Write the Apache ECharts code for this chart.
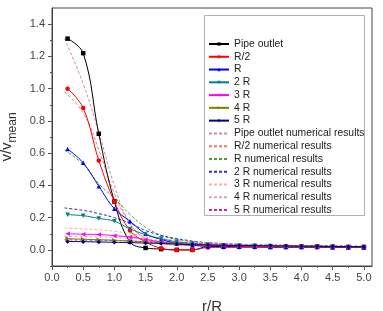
<!DOCTYPE html>
<html>
<head>
<meta charset="utf-8">
<script src="https://cdn.jsdelivr.net/npm/echarts@6/dist/echarts.min.js"></script>
<style>
  html, body { margin: 0; padding: 0; background: #fff; }
  #chart { width: 383px; height: 311px; }
</style>
</head>
<body>
<div id="chart"></div>
<script>
// r/R positions
const xs = [0.25, 0.5, 0.75, 1.0, 1.25, 1.5, 1.75, 2.0, 2.25, 2.5, 2.75, 3.0, 3.25, 3.5, 3.75, 4.0, 4.25, 4.5, 4.75, 5.0]
const xsNum = [0.2, 0.5, 0.75, 1.0, 1.25, 1.5, 1.75, 2.0, 2.25, 2.5, 2.75, 3.0, 3.25, 3.5, 3.75, 4.0, 4.25, 4.5, 4.75, 5.0]

// measured
const pipeOutlet = [1.31, 1.22, 0.72, 0.30, 0.05, 0.012, 0.005, 0.0, 0.0, 0.02, 0.02, 0.02, 0.02, 0.02, 0.02, 0.02, 0.02, 0.018, 0.016, 0.015]
const halfR = [1.0, 0.88, 0.555, 0.30, 0.12, 0.05, 0.01, 0.0, 0.0, 0.015, 0.016, 0.016, 0.016, 0.016, 0.016, 0.016, 0.016, 0.015, 0.015, 0.015]
const oneR = [0.625, 0.54, 0.395, 0.255, 0.178, 0.10, 0.065, 0.04, 0.028, 0.022, 0.02, 0.02, 0.02, 0.018, 0.018, 0.018, 0.018, 0.017, 0.017, 0.017]
const twoR = [0.218, 0.212, 0.195, 0.178, 0.13, 0.095, 0.07, 0.05, 0.04, 0.032, 0.028, 0.026, 0.025, 0.024, 0.023, 0.022, 0.022, 0.021, 0.02, 0.02]
const threeR = [0.10, 0.097, 0.095, 0.088, 0.08, 0.065, 0.05, 0.04, 0.033, 0.03, 0.027, 0.025, 0.024, 0.023, 0.022, 0.021, 0.02, 0.02, 0.02, 0.02]
const fourR = [0.07, 0.066, 0.063, 0.06, 0.055, 0.05, 0.045, 0.04, 0.035, 0.03, 0.028, 0.026, 0.025, 0.024, 0.023, 0.022, 0.021, 0.02, 0.02, 0.02]
const fiveR = [0.052, 0.051, 0.049, 0.047, 0.045, 0.042, 0.04, 0.036, 0.033, 0.03, 0.028, 0.027, 0.026, 0.025, 0.024, 0.023, 0.022, 0.021, 0.02, 0.02]

// numerical results
const pipeNum = [1.31, 1.03, 0.73, 0.40, 0.16, 0.07, 0.04, 0.03, 0.028, 0.026, 0.024, 0.022, 0.021, 0.02, 0.02, 0.019, 0.018, 0.018, 0.017, 0.017]
const halfRNum = [0.98, 0.85, 0.62, 0.35, 0.16, 0.07, 0.04, 0.03, 0.028, 0.026, 0.024, 0.022, 0.021, 0.02, 0.02, 0.019, 0.018, 0.018, 0.017, 0.017]
const oneRNum = [0.62, 0.53, 0.41, 0.32, 0.22, 0.14, 0.09, 0.065, 0.05, 0.04, 0.035, 0.03, 0.028, 0.026, 0.025, 0.024, 0.023, 0.022, 0.021, 0.02]
const twoRNum = [0.26, 0.245, 0.225, 0.20, 0.165, 0.12, 0.09, 0.07, 0.055, 0.045, 0.04, 0.035, 0.032, 0.03, 0.028, 0.026, 0.025, 0.024, 0.023, 0.022]
const threeRNum = [0.135, 0.13, 0.125, 0.115, 0.10, 0.085, 0.07, 0.06, 0.05, 0.043, 0.038, 0.034, 0.031, 0.029, 0.027, 0.025, 0.024, 0.023, 0.022, 0.021]
const fourRNum = [0.083, 0.082, 0.08, 0.077, 0.07, 0.065, 0.058, 0.05, 0.045, 0.04, 0.036, 0.033, 0.03, 0.028, 0.026, 0.025, 0.024, 0.023, 0.022, 0.021]
const fiveRNum = [0.062, 0.061, 0.06, 0.058, 0.055, 0.05, 0.047, 0.044, 0.04, 0.037, 0.034, 0.031, 0.029, 0.027, 0.026, 0.025, 0.024, 0.023, 0.022, 0.021]

// ticks
const xMajor = [0, 0.5, 1.0, 1.5, 2.0, 2.5, 3.0, 3.5, 4.0, 4.5, 5.0]
const xMinor = [0.25, 0.75, 1.25, 1.75, 2.25, 2.75, 3.25, 3.75, 4.25, 4.75]
const yMajor = [0, 0.2, 0.4, 0.6, 0.8, 1.0, 1.2, 1.4]
const yMinor = [-0.1, 0.1, 0.3, 0.5, 0.7, 0.9, 1.1, 1.3]

const pair = (x, y) => x.map((v, i) => [v, y[i]])

const measured = [
  { name: 'Pipe outlet', data: pipeOutlet, color: '#000000', symbol: 'rect' },
  { name: 'R/2', data: halfR, color: '#ff0000', symbol: 'circle' },
  { name: 'R', data: oneR, color: '#0000ff', symbol: 'triangle' },
  { name: '2 R', data: twoR, color: '#008080', symbol: 'path://M0,0 L10,0 L5,10 Z' },
  { name: '3 R', data: threeR, color: '#ff00ff', symbol: 'path://M0,5 L10,0 L10,10 Z' },
  { name: '4 R', data: fourR, color: '#808000', symbol: 'path://M0,0 L10,5 L0,10 Z' },
  { name: '5 R', data: fiveR, color: '#000080', symbol: 'diamond' }
]
const numerical = [
  { name: 'Pipe outlet numerical results', data: pipeNum, color: '#d09090' },
  { name: 'R/2 numerical results', data: halfRNum, color: '#ff7070' },
  { name: 'R numerical results', data: oneRNum, color: '#40a040' },
  { name: '2 R numerical results', data: twoRNum, color: '#3030c0' },
  { name: '3 R numerical results', data: threeRNum, color: '#ffb0a0' },
  { name: '4 R numerical results', data: fourRNum, color: '#d8a0d8' },
  { name: '5 R numerical results', data: fiveRNum, color: '#b030b0' }
]

const series = []
numerical.forEach((s) => {
  series.push({
    name: s.name,
    type: 'line',
    data: pair(xsNum, s.data),
    smooth: 0.4,
    symbol: 'none',
    color: s.color,
    lineStyle: { color: s.color, width: 1, type: [3, 2] },
    z: 2
  })
})
measured.forEach((s) => {
  series.push({
    name: s.name,
    type: 'line',
    data: pair(xs, s.data),
    smooth: 0.4,
    symbol: s.symbol,
    symbolSize: 4.5,
    color: s.color,
    itemStyle: { color: s.color },
    lineStyle: { color: s.color, width: 1 },
    z: 3
  })
})

const legendData = measured
  .map((s) => ({ name: s.name }))
  .concat(numerical.map((s) => ({ name: s.name, itemStyle: { opacity: 0 } })))

const font = 'Liberation Sans, Arial, sans-serif'
const myChart = echarts.init(document.getElementById('chart'))
myChart.setOption({
  animation: false,
  backgroundColor: '#fff',
  grid: {
    left: 52, top: 8, right: 11, bottom: 45,
    outerBoundsMode: 'none',
    containLabel: false,
    show: true, borderColor: '#444', borderWidth: 1, backgroundColor: 'transparent'
  },
  graphic: [
    {
      type: 'rect',
      shape: { x: 204.5, y: 15.5, width: 160, height: 200 },
      style: { fill: '#fff', stroke: '#b0b0b0', lineWidth: 1 },
      z: 50
    }
  ],
  legend: {
    orient: 'vertical',
    left: 208,
    top: 38,
    itemWidth: 20,
    itemHeight: 4,
    itemGap: 0.77,
    padding: 0,
    z: 60,
    data: legendData,
    textStyle: { fontFamily: font, fontSize: 10.4, color: '#222', lineHeight: 12 }
  },
  xAxis: [
    {
      type: 'value',
      min: 0,
      max: 5.13,
      name: 'r/R',
      nameLocation: 'middle',
      nameGap: 33,
      nameTextStyle: { fontFamily: font, fontSize: 15, color: '#333' },
      axisLine: { onZero: false, lineStyle: { color: '#444' } },
      axisTick: { customValues: xMajor, length: 4, lineStyle: { color: '#555' } },
      axisLabel: {
        customValues: xMajor,
        fontFamily: font, fontSize: 11, color: '#444', margin: 6,
        formatter: (v) => v.toFixed(1)
      },
      splitLine: { show: false }
    },
    {
      type: 'value',
      position: 'bottom',
      min: 0,
      max: 5.13,
      axisLine: { show: false, onZero: false },
      axisTick: { customValues: xMinor, length: 2, lineStyle: { color: '#555' } },
      axisLabel: { show: false },
      splitLine: { show: false }
    }
  ],
  yAxis: [
    {
      type: 'value',
      min: -0.1,
      max: 1.5,
      name: '{a|v/v}{b|mean}',
      nameLocation: 'middle',
      nameGap: 30,
      nameTextStyle: {
        fontFamily: font,
        color: '#333',
        rich: {
          a: { fontFamily: font, fontSize: 15, color: '#333', verticalAlign: 'bottom', padding: [0, 0, 4, 0] },
          b: { fontFamily: font, fontSize: 12, color: '#333', verticalAlign: 'bottom' }
        }
      },
      axisLine: { onZero: false, lineStyle: { color: '#444' } },
      axisTick: { customValues: yMajor, length: 4, lineStyle: { color: '#555' } },
      axisLabel: {
        customValues: yMajor,
        fontFamily: font, fontSize: 11, color: '#444', margin: 7,
        formatter: (v) => v.toFixed(1)
      },
      splitLine: { show: false }
    },
    {
      type: 'value',
      position: 'left',
      min: -0.1,
      max: 1.5,
      axisLine: { show: false, onZero: false },
      axisTick: { customValues: yMinor, length: 2, lineStyle: { color: '#555' } },
      axisLabel: { show: false },
      splitLine: { show: false }
    }
  ],
  series: series
})
</script>
</body>
</html>
